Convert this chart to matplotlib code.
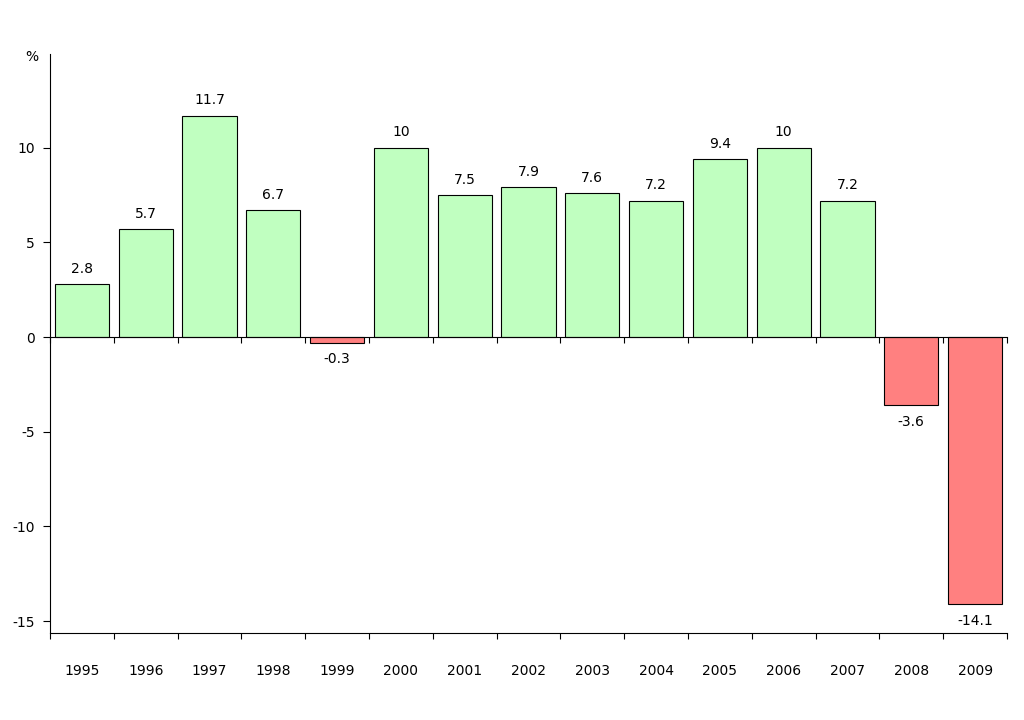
import numpy as np
from matplotlib import pyplot as plt
from matplotlib.ticker import FixedLocator, NullFormatter

plt.rc('font', family='DejaVu Sans', size=10)
plt.rc('axes', unicode_minus=False)

years = ['1995', '1996', '1997', '1998', '1999', '2000', '2001', '2002',
         '2003', '2004', '2005', '2006', '2007', '2008', '2009']
growth = [2.8, 5.7, 11.7, 6.7, -0.3, 10, 7.5, 7.9,
          7.6, 7.2, 9.4, 10, 7.2, -3.6, -14.1]
yticks = [-15, -10, -5, 0, 5, 10]

green = '#C0FFC0'
red = '#FF8080'

fig = plt.figure(figsize=(10.24, 7.2), dpi=100)
ax = fig.add_axes([50/1024, 87/720, 957/1024, 579/720])

x = np.arange(len(years))
colors = [green if v >= 0 else red for v in growth]
ax.bar(x, growth, width=0.85, color=colors, edgecolor='black',
       linewidth=0.8, zorder=2)

for xi, v in zip(x, growth):
    lbl = f'{v:g}'
    if v >= 0:
        ax.annotate(lbl, (xi, v), xytext=(0, 6), textcoords='offset points',
                    ha='center', va='bottom')
    else:
        ax.annotate(lbl, (xi, v), xytext=(0, -7), textcoords='offset points',
                    ha='center', va='top')

ax.set_xlim(-0.5, len(years) - 0.5)
ax.set_ylim(-15.63, 14.95)

for s in ['top', 'right']:
    ax.spines[s].set_visible(False)
ax.spines['left'].set_linewidth(0.8)
ax.spines['bottom'].set_linewidth(0.8)
ax.spines['bottom'].set_position(('data', 0))
ax.spines['bottom'].set_zorder(3)

bounds = np.arange(len(years) + 1) - 0.5
ax.xaxis.set_major_locator(FixedLocator(bounds))
ax.xaxis.set_major_formatter(NullFormatter())
ax.tick_params(axis='x', direction='out', length=4, width=0.8)

ax.set_yticks(yticks)
ax.tick_params(axis='y', direction='out', length=5, width=0.8, pad=6)

# lower axis carrying the year labels
sec = ax.secondary_xaxis('bottom')
sec.spines['bottom'].set_linewidth(0.8)
sec.set_xticks(x, years)
sec.xaxis.set_minor_locator(FixedLocator(bounds))
sec.tick_params(which='major', length=0, pad=22)
sec.tick_params(which='minor', length=4, width=0.8, direction='out')

ax.text(-0.019, 0.995, '%', transform=ax.transAxes, ha='center', va='center')

fig.savefig('out.png', dpi=100, facecolor='white')
